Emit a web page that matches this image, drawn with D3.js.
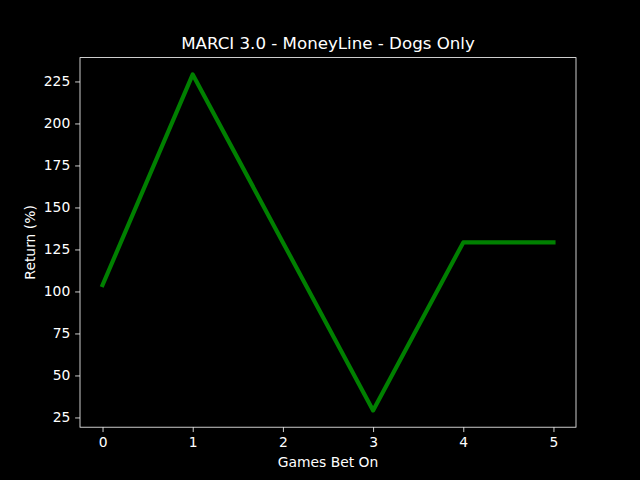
<!DOCTYPE html>
<html><head><meta charset="utf-8">
<script src="https://cdn.jsdelivr.net/npm/d3@7"></script>
<style>body{margin:0;background:#000}</style>
</head><body>
<script>
const games = [0, 1, 2, 3, 4, 5];
const returns = [103.8, 229.2, 129.2, 29.2, 129.2, 129.2];
const yTicks = [25, 50, 75, 100, 125, 150, 175, 200, 225];
const xTicks = [0, 1, 2, 3, 4, 5];
const title = "MARCI 3.0 - MoneyLine - Dogs Only";

const W = 640, H = 480;
const m = {l: 80, r: 576, t: 57.6, b: 427.2};
const svg = d3.select("body").append("svg").attr("width", W).attr("height", H)
  .style("font-family", "DejaVu Sans, sans-serif");
svg.append("rect").attr("width", W).attr("height", H).attr("fill", "#000");

const xMin = d3.min(games), xMax = d3.max(games), xp = (xMax - xMin) * 0.05;
const yMin = d3.min(returns), yMax = d3.max(returns), yp = (yMax - yMin) * 0.05;
const x = d3.scaleLinear().domain([xMin - xp, xMax + xp]).range([m.l, m.r]);
const y = d3.scaleLinear().domain([yMin - yp, yMax + yp]).range([m.b, m.t]);

const xAxis = svg.append("g").attr("transform", `translate(0,${m.b})`)
  .call(d3.axisBottom(x).tickValues(xTicks).tickSize(4.86).tickPadding(4.86).tickFormat(d3.format("d")));
const yAxis = svg.append("g").attr("transform", `translate(${m.l},0)`)
  .call(d3.axisLeft(y).tickValues(yTicks).tickSize(4.86).tickPadding(4.86).tickFormat(d3.format("d")));
[xAxis, yAxis].forEach(a => {
  a.select(".domain").remove();
  a.selectAll("line").attr("stroke", "#fff").attr("stroke-width", 0.8);
  a.selectAll("text").attr("fill", "#fff").style("font-size", "13.89px").style("font-family", "DejaVu Sans, sans-serif");
});

svg.append("rect").attr("x", m.l).attr("y", m.t).attr("width", m.r - m.l).attr("height", m.b - m.t)
  .attr("fill", "none").attr("stroke", "#fff").attr("stroke-width", 0.8);

const line = d3.line().x((d, i) => x(games[i])).y(d => y(d));
svg.append("path").datum(returns).attr("d", line).attr("fill", "none")
  .attr("stroke", "#008000").attr("stroke-width", 4.17).attr("stroke-linejoin", "round").attr("stroke-linecap", "square");

svg.append("text").attr("x", (m.l + m.r) / 2).attr("y", 49).attr("text-anchor", "middle")
  .attr("fill", "#fff").style("font-size", "16.67px").text(title);
svg.append("text").attr("x", (m.l + m.r) / 2).attr("y", 467).attr("text-anchor", "middle")
  .attr("fill", "#fff").style("font-size", "13.89px").text("Games Bet On");
svg.append("text").attr("transform", `translate(35,${(m.t + m.b) / 2}) rotate(-90)`).attr("text-anchor", "middle")
  .attr("fill", "#fff").style("font-size", "13.89px").text("Return (%)");
</script>
</body></html>
